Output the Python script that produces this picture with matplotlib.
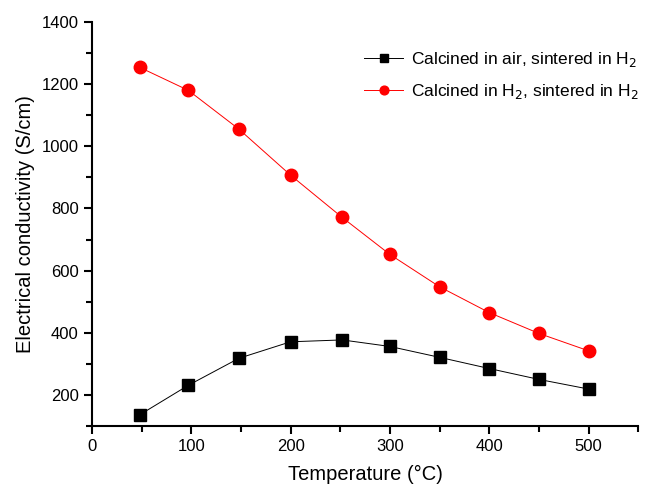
import matplotlib
matplotlib.use("Agg")
import matplotlib.pyplot as plt
from matplotlib.ticker import MultipleLocator

plt.rcParams['font.family'] = ['Liberation Sans', 'DejaVu Sans']

temp = [48, 97, 148, 200, 252, 300, 350, 400, 450, 500]
air_h2 = [136, 231, 318, 371, 377, 356, 321, 285, 250, 219]
h2_h2 = [1254, 1180, 1055, 907, 771, 652, 548, 465, 398, 342]

fig = plt.figure(figsize=(6.51, 4.88), dpi=100)
ax = fig.add_axes([0.1413, 0.127, 0.839, 0.828])

ax.plot(temp, air_h2, color='black', lw=0.7, marker='s', ms=8,
        label='Calcined in air, sintered in H$_2$')
ax.plot(temp, h2_h2, color='#ff0000', lw=0.7, marker='o', ms=9,
        label='Calcined in H$_2$, sintered in H$_2$')

ax.set_xlim(0, 550)
ax.set_ylim(100, 1400)
ax.xaxis.set_major_locator(MultipleLocator(100))
ax.xaxis.set_minor_locator(MultipleLocator(50))
ax.yaxis.set_minor_locator(MultipleLocator(100))
ax.set_yticks([200, 400, 600, 800, 1000, 1200, 1400])
ax.spines['top'].set_visible(False)
ax.spines['right'].set_visible(False)
for s in ('left', 'bottom'):
    ax.spines[s].set_linewidth(1.5)
ax.tick_params(which='major', direction='out', length=6, width=1.5, labelsize=12)
ax.tick_params(which='minor', direction='out', length=4, width=1.5)

ax.set_xlabel('Temperature (°C)', fontsize=14.5, labelpad=8)
ax.set_ylabel('Electrical conductivity (S/cm)', fontsize=14.5, labelpad=5)

ax.legend(loc='upper right', frameon=False, fontsize=12.5, handlelength=2.2,
          markerscale=0.7, bbox_to_anchor=(1.03, 0.97), labelspacing=0.75,
          handletextpad=0.5)

fig.savefig('out.png', dpi=100)
